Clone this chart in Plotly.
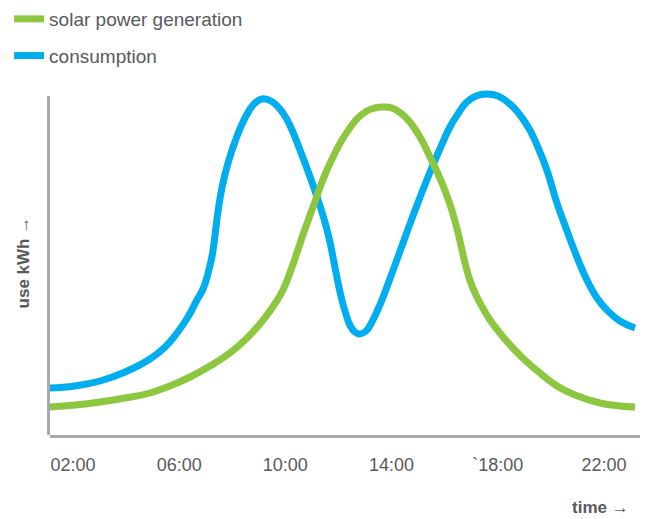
import plotly.graph_objects as go

# time in hours, values in arbitrary kWh units
cons_hours = [1.13, 2.08, 3.02, 3.96, 4.90, 5.47, 5.92, 6.33, 6.67, 6.90, 7.08, 7.24, 7.35,
              7.46, 7.61, 7.84, 8.14, 8.48, 8.82, 9.12, 9.46, 9.91, 10.25, 10.55, 10.81,
              11.04, 11.27, 11.49, 11.68, 11.83, 11.98, 12.13, 12.28, 12.43, 12.62, 12.81,
              13.04, 13.26, 13.56, 14.02, 14.50, 14.99, 15.45, 15.82, 16.20, 16.50, 16.80,
              17.18, 17.59, 18.01, 18.46, 18.84, 19.21, 19.51, 19.85, 20.23, 20.57, 20.91,
              21.36, 21.74, 22.11, 22.60, 23.17]
cons_values = [47, 49, 54, 63, 76, 88, 102, 118, 135, 146, 161, 179, 200,
               223, 247, 272, 296, 317, 331, 336, 334, 322, 305, 285, 267,
               250, 232, 213, 193, 173, 153, 135, 121, 110, 103, 101,
               104, 113, 130, 162, 197, 232, 263, 286, 308, 321, 332,
               339, 341, 339, 331, 320, 305, 288, 265, 232, 207, 183,
               155, 137, 125, 114, 107]

solar_hours = [1.13, 2.08, 3.02, 3.96, 4.90, 5.65, 6.41, 7.16, 7.91, 8.48, 9.04, 9.50, 9.91,
               10.21, 10.47, 10.70, 10.96, 11.19, 11.38, 11.60, 11.87, 12.13, 12.43, 12.73,
               13.07, 13.37, 13.64, 14.02, 14.39, 14.69, 15.07, 15.45, 15.82, 16.09, 16.28,
               16.46, 16.61, 16.76, 16.95, 17.18, 17.44, 17.71, 18.08, 18.57, 19.02, 19.59,
               20.23, 20.91, 21.85, 22.60, 23.17]
solar_values = [28, 30, 33, 37, 42, 49, 58, 69, 82, 95, 111, 127, 145,
                165, 185, 203, 222, 239, 253, 267, 282, 295, 307, 317,
                324, 327, 328, 327, 321, 313, 298, 278, 257, 239, 224,
                207, 190, 173, 155, 140, 127, 115, 102, 87, 75, 62,
                49, 40, 32, 29, 28]

tick_vals = [2, 6, 10, 14, 18, 22]
tick_text = ["02:00", "06:00", "10:00", "14:00", "`18:00", "22:00"]

GREEN = "#8dc63f"
BLUE = "#00aeef"
GREY_TXT = "#58595b"
AXIS = "#a7a9ac"

fig = go.Figure()
fig.add_trace(go.Scatter(x=cons_hours, y=cons_values, mode="lines", name="consumption",
                         line=dict(color=BLUE, width=7, shape="spline", smoothing=1.3),
                         legendrank=2, legendgroup="b", hoverinfo="skip"))
fig.add_trace(go.Scatter(x=solar_hours, y=solar_values, mode="lines", name="solar power generation",
                         line=dict(color=GREEN, width=7, shape="spline", smoothing=1.3),
                         legendrank=1, legendgroup="a", hoverinfo="skip"))

fig.update_layout(
    width=650, height=519,
    margin=dict(l=50, r=10, t=89, b=84, autoexpand=False),
    paper_bgcolor="white", plot_bgcolor="white",
    font=dict(family="Liberation Sans, Arial, sans-serif", color=GREY_TXT, size=18),
    showlegend=True,
    legend=dict(xref="container", yref="container", x=0.014, y=1.012, xanchor="left", yanchor="top",
                font=dict(size=19, color=GREY_TXT), tracegroupgap=9, bgcolor="rgba(0,0,0,0)"),
    xaxis=dict(range=[1.134, 23.36], showgrid=False, zeroline=False, showline=True,
               linecolor=AXIS, linewidth=3, tickvals=tick_vals, ticktext=tick_text,
               ticks="outside", ticklen=11, tickcolor="rgba(0,0,0,0)",
               tickfont=dict(size=18, color=GREY_TXT)),
    yaxis=dict(range=[0, 346], showgrid=False, zeroline=False, showline=False,
               showticklabels=False, ticks=""),
    shapes=[dict(type="line", xref="paper", yref="y", x0=-0.0025, x1=-0.0025, y0=-1.5, y1=339,
                 line=dict(color=AXIS, width=3), layer="below")],
    annotations=[
        dict(text="<b>time →</b>", xref="paper", yref="paper", x=0.985, y=-0.21,
             xanchor="right", yanchor="middle", showarrow=False,
             font=dict(size=17, color=GREY_TXT)),
        dict(text="<b>use kWh →</b>", xref="paper", yref="paper", x=-0.045, y=0.5,
             xanchor="center", yanchor="middle", showarrow=False, textangle=-90,
             font=dict(size=17, color=GREY_TXT)),
    ],
)

fig.write_html("out.html", config={"displayModeBar": False},
               post_script="document.body.style.margin='0';")
